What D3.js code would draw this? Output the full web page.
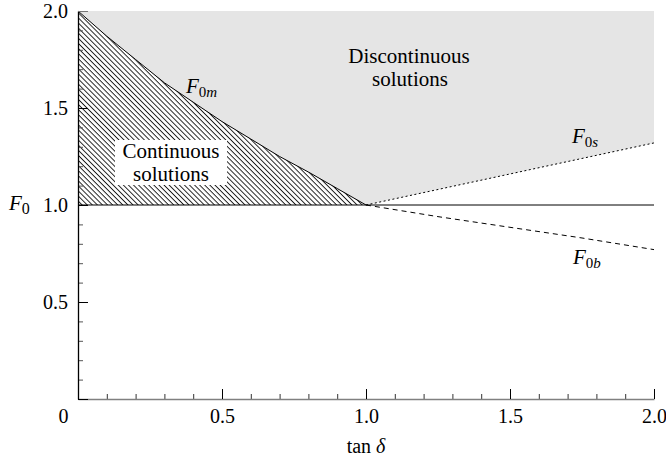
<!DOCTYPE html>
<html>
<head>
<meta charset="utf-8">
<script src="https://cdn.jsdelivr.net/npm/d3@7/dist/d3.min.js"></script>
</head>
<body style="margin:0;padding:0;background:#fff">
<svg id="chart" width="666" height="457" style="display:block"></svg>
<script>
// ---- data ----
const xMajorTicks = [0, 0.5, 1.0, 1.5, 2.0];
const xTickLabels = ["0", "0.5", "1.0", "1.5", "2.0"];
const yMajorTicks = [0, 0.5, 1.0, 1.5, 2.0];
const yTickLabels = ["", "0.5", "1.0", "1.5", "2.0"];
const minorTicks = [0.1,0.2,0.3,0.4,0.6,0.7,0.8,0.9,1.1,1.2,1.3,1.4,1.6,1.7,1.8,1.9];

const f0mX = [0, 0.1, 0.2, 0.3, 0.4, 0.5, 0.6, 0.7, 0.8, 0.9, 1.0];
const f0mY = [2.0, 1.87, 1.75, 1.63, 1.53, 1.43, 1.34, 1.25, 1.17, 1.085, 1.0];
const f0sX = [1.0, 1.25, 1.5, 1.75, 2.0];
const f0sY = [1.0, 1.08, 1.16, 1.24, 1.32];
const f0bX = [1.0, 1.25, 1.5, 1.75, 2.0];
const f0bY = [1.0, 0.94, 0.885, 0.83, 0.77];
const unitLevel = 1.0;

const SERIF = '"Liberation Serif"';

// ---- layout ----
const svg = d3.select("#chart");
const x = d3.scaleLinear().domain([0, 2]).range([78, 654]);
const y = d3.scaleLinear().domain([0, 2]).range([399, 11]);

const zip = (xs, ys) => xs.map((v, i) => [v, ys[i]]);
const f0m = zip(f0mX, f0mY);
const f0s = zip(f0sX, f0sY);
const f0b = zip(f0bX, f0bY);
const line = d3.line().x(d => x(d[0])).y(d => y(d[1]));

// hatch pattern
const defs = svg.append("defs");
const pat = defs.append("pattern")
  .attr("id", "hatch")
  .attr("patternUnits", "userSpaceOnUse")
  .attr("width", 3.6).attr("height", 3.6)
  .attr("patternTransform", "rotate(45)");
pat.append("line")
  .attr("x1", 0).attr("y1", 0.5).attr("x2", 3.6).attr("y2", 0.5)
  .attr("stroke", "#000").attr("stroke-width", 0.85);

// grey discontinuous region
const greyPoly = [[0, 2]].concat(f0m, f0s.slice(1), [[2, 2]]);
svg.append("path")
  .attr("d", line(greyPoly) + "Z")
  .attr("fill", "#e5e5e5");

// hatched continuous region
const hatchPoly = f0m.concat([[0, unitLevel]]);
svg.append("path")
  .attr("d", line(hatchPoly) + "Z")
  .attr("fill", "url(#hatch)");

// white box behind "Continuous solutions"
svg.append("rect")
  .attr("x", 115).attr("y", 140).attr("width", 112).attr("height", 45)
  .attr("fill", "#fff");

// F0 = 1 line
svg.append("path")
  .attr("d", line([[0, unitLevel], [2, unitLevel]]))
  .attr("stroke", "#000").attr("stroke-width", 1).attr("fill", "none");

// curves
svg.append("path").attr("d", line(f0m))
  .attr("stroke", "#000").attr("stroke-width", 1).attr("fill", "none");
svg.append("path").attr("d", line(f0s))
  .attr("stroke", "#000").attr("stroke-width", 1).attr("fill", "none")
  .attr("stroke-dasharray", "2,2.5");
svg.append("path").attr("d", line(f0b))
  .attr("stroke", "#000").attr("stroke-width", 1).attr("fill", "none")
  .attr("stroke-dasharray", "5,4");

// ---- axes ----
// x minor
svg.append("g").attr("transform", `translate(0,${y(0)})`)
  .call(d3.axisBottom(x).tickValues(minorTicks).tickSize(-5).tickFormat(""))
  .call(g => g.select(".domain").remove())
  .call(g => g.selectAll("line").attr("stroke", "#333"));
// x major
const xa = svg.append("g").attr("transform", `translate(0,${y(0)})`)
  .call(d3.axisBottom(x).tickValues(xMajorTicks).tickSize(-10).tickSizeOuter(0)
    .tickPadding(10).tickFormat((d, i) => xTickLabels[i]));
xa.select(".domain").attr("stroke", "#808080").attr("stroke-width", 1.3);
xa.selectAll("line").attr("stroke", "#000");
xa.selectAll("text").style("font-family", SERIF).style("font-size", "20px").attr("fill", "#000");
xa.selectAll(".tick").filter(d => d === 0).select("text")
  .attr("text-anchor", "end").attr("x", -10);

// y minor
svg.append("g").attr("transform", `translate(${x(0)},0)`)
  .call(d3.axisLeft(y).tickValues(minorTicks).tickSize(-5).tickFormat(""))
  .call(g => g.select(".domain").remove())
  .call(g => g.selectAll("line").attr("stroke", "#555"));
// y major
const ya = svg.append("g").attr("transform", `translate(${x(0)},0)`)
  .call(d3.axisLeft(y).tickValues(yMajorTicks).tickSize(-10).tickSizeOuter(0)
    .tickPadding(10).tickFormat((d, i) => yTickLabels[i]));
ya.select(".domain").attr("stroke", "#000").attr("stroke-width", 1.3);
ya.selectAll("line").attr("stroke", "#000");
ya.selectAll("text").style("font-family", SERIF).style("font-size", "20px").attr("fill", "#000");
ya.selectAll(".tick").filter(d => d === 2).select("line").attr("stroke", "#777");

// ---- labels ----
function txt(xp, yp, size) {
  return svg.append("text").attr("x", xp).attr("y", yp)
    .style("font-family", SERIF).style("font-size", size + "px").attr("fill", "#000");
}
function subLabel(xp, yp, sub, size, subSize) {
  const t = txt(xp, yp, size);
  t.append("tspan").style("font-style", "italic").text("F");
  t.append("tspan").style("font-size", subSize + "px").attr("dy", 4).text("0");
  if (sub) t.append("tspan").style("font-size", subSize + "px").style("font-style", "italic").text(sub);
  return t;
}
subLabel(186, 93, "m", 21, 15);
subLabel(572, 143, "s", 21, 15);
subLabel(573, 264, "b", 21, 15);
subLabel(9, 210, "", 21, 16);

txt(409, 63, 21).attr("text-anchor", "middle").text("Discontinuous");
txt(410, 86, 21).attr("text-anchor", "middle").text("solutions");
txt(171, 158, 21).attr("text-anchor", "middle").text("Continuous");
txt(171, 181, 21).attr("text-anchor", "middle").text("solutions");

const xl = txt(366, 453, 20).attr("text-anchor", "middle");
xl.append("tspan").text("tan ");
xl.append("tspan").style("font-style", "italic").text("δ");
</script>
</body>
</html>
